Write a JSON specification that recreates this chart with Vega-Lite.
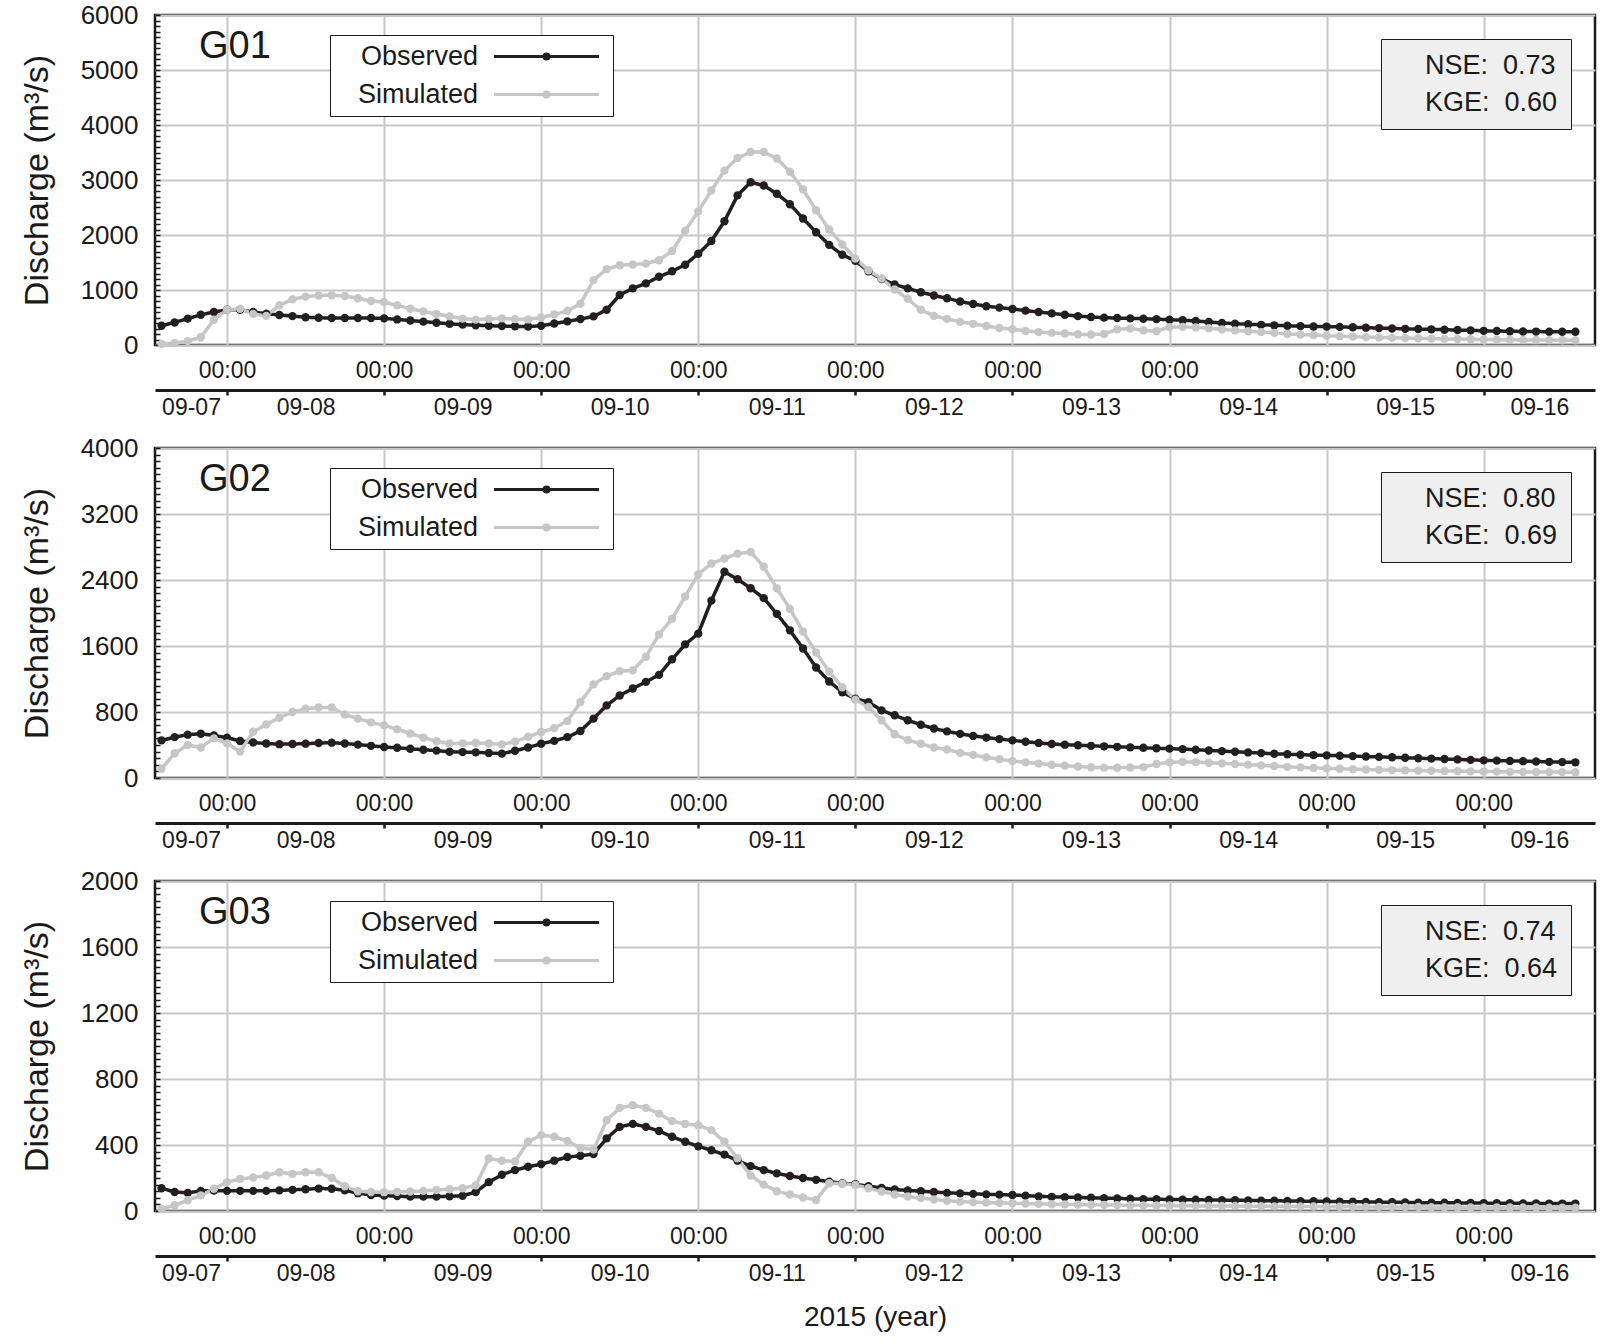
{
"$schema":"https://vega.github.io/schema/vega-lite/v6.json",
"padding":{"left":18,"top":0,"right":5,"bottom":5},
"background":"white",
"config":{"view":{"stroke":"#1a1a1a","strokeWidth":2.5},"font":"Liberation Sans"},
"data":{"format":{"parse":{"t":"date:'%y%m%d%H'"}},"values":[
{"t":"15090714","O1":350,"S1":20,"O2":456,"S2":113,"O3":138,"S3":12},
{"t":"15090716","O1":410,"S1":35,"O2":495,"S2":300,"O3":115,"S3":35},
{"t":"15090718","O1":480,"S1":70,"O2":525,"S2":400,"O3":110,"S3":65},
{"t":"15090720","O1":550,"S1":140,"O2":537,"S2":370,"O3":122,"S3":95},
{"t":"15090722","O1":600,"S1":460,"O2":515,"S2":480,"O3":124,"S3":135},
{"t":"15090800","O1":640,"S1":640,"O2":489,"S2":420,"O3":122,"S3":175},
{"t":"15090802","O1":640,"S1":660,"O2":448,"S2":320,"O3":122,"S3":195},
{"t":"15090804","O1":600,"S1":565,"O2":430,"S2":560,"O3":122,"S3":203},
{"t":"15090806","O1":570,"S1":530,"O2":418,"S2":650,"O3":122,"S3":215},
{"t":"15090808","O1":545,"S1":720,"O2":410,"S2":730,"O3":125,"S3":235},
{"t":"15090810","O1":525,"S1":830,"O2":412,"S2":800,"O3":128,"S3":225},
{"t":"15090812","O1":505,"S1":880,"O2":416,"S2":840,"O3":132,"S3":235},
{"t":"15090814","O1":495,"S1":900,"O2":424,"S2":855,"O3":136,"S3":235},
{"t":"15090816","O1":490,"S1":905,"O2":428,"S2":855,"O3":135,"S3":200},
{"t":"15090818","O1":490,"S1":890,"O2":418,"S2":770,"O3":125,"S3":150},
{"t":"15090820","O1":490,"S1":850,"O2":405,"S2":720,"O3":108,"S3":120},
{"t":"15090822","O1":490,"S1":800,"O2":390,"S2":675,"O3":97,"S3":115},
{"t":"15090900","O1":485,"S1":780,"O2":376,"S2":638,"O3":93,"S3":114},
{"t":"15090902","O1":465,"S1":720,"O2":366,"S2":590,"O3":90,"S3":116},
{"t":"15090904","O1":445,"S1":660,"O2":354,"S2":540,"O3":87,"S3":118},
{"t":"15090906","O1":425,"S1":610,"O2":342,"S2":490,"O3":87,"S3":122},
{"t":"15090908","O1":405,"S1":565,"O2":332,"S2":445,"O3":87,"S3":127},
{"t":"15090910","O1":385,"S1":520,"O2":318,"S2":418,"O3":89,"S3":132},
{"t":"15090912","O1":370,"S1":480,"O2":314,"S2":420,"O3":92,"S3":138},
{"t":"15090914","O1":360,"S1":462,"O2":311,"S2":424,"O3":115,"S3":155},
{"t":"15090916","O1":350,"S1":475,"O2":304,"S2":418,"O3":175,"S3":318},
{"t":"15090918","O1":345,"S1":485,"O2":295,"S2":408,"O3":220,"S3":305},
{"t":"15090920","O1":340,"S1":470,"O2":330,"S2":440,"O3":248,"S3":300},
{"t":"15090922","O1":335,"S1":465,"O2":370,"S2":500,"O3":268,"S3":420},
{"t":"15091000","O1":350,"S1":500,"O2":416,"S2":557,"O3":284,"S3":460},
{"t":"15091002","O1":390,"S1":555,"O2":450,"S2":605,"O3":305,"S3":450},
{"t":"15091004","O1":430,"S1":620,"O2":495,"S2":690,"O3":327,"S3":425},
{"t":"15091006","O1":472,"S1":750,"O2":570,"S2":921,"O3":335,"S3":382},
{"t":"15091008","O1":520,"S1":1180,"O2":720,"S2":1135,"O3":345,"S3":372},
{"t":"15091010","O1":640,"S1":1380,"O2":880,"S2":1235,"O3":440,"S3":550},
{"t":"15091012","O1":910,"S1":1450,"O2":1000,"S2":1295,"O3":510,"S3":625},
{"t":"15091014","O1":1030,"S1":1465,"O2":1085,"S2":1305,"O3":528,"S3":641},
{"t":"15091016","O1":1120,"S1":1480,"O2":1165,"S2":1470,"O3":510,"S3":625},
{"t":"15091018","O1":1240,"S1":1540,"O2":1250,"S2":1740,"O3":485,"S3":590},
{"t":"15091020","O1":1340,"S1":1710,"O2":1440,"S2":1930,"O3":450,"S3":545},
{"t":"15091022","O1":1460,"S1":2080,"O2":1620,"S2":2200,"O3":420,"S3":527},
{"t":"15091100","O1":1660,"S1":2430,"O2":1750,"S2":2470,"O3":392,"S3":520},
{"t":"15091102","O1":1890,"S1":2810,"O2":2150,"S2":2600,"O3":368,"S3":490},
{"t":"15091104","O1":2250,"S1":3170,"O2":2500,"S2":2660,"O3":342,"S3":420},
{"t":"15091106","O1":2720,"S1":3400,"O2":2410,"S2":2720,"O3":305,"S3":320},
{"t":"15091108","O1":2960,"S1":3510,"O2":2300,"S2":2740,"O3":272,"S3":215},
{"t":"15091110","O1":2900,"S1":3510,"O2":2180,"S2":2560,"O3":248,"S3":160},
{"t":"15091112","O1":2750,"S1":3390,"O2":1990,"S2":2300,"O3":228,"S3":120},
{"t":"15091114","O1":2560,"S1":3150,"O2":1790,"S2":2050,"O3":212,"S3":100},
{"t":"15091116","O1":2300,"S1":2830,"O2":1570,"S2":1775,"O3":200,"S3":82},
{"t":"15091118","O1":2050,"S1":2450,"O2":1340,"S2":1520,"O3":189,"S3":67},
{"t":"15091120","O1":1820,"S1":2100,"O2":1170,"S2":1290,"O3":178,"S3":168},
{"t":"15091122","O1":1640,"S1":1830,"O2":1040,"S2":1100,"O3":168,"S3":165},
{"t":"15091200","O1":1530,"S1":1570,"O2":960,"S2":950,"O3":162,"S3":158},
{"t":"15091202","O1":1340,"S1":1360,"O2":920,"S2":860,"O3":150,"S3":138},
{"t":"15091204","O1":1200,"S1":1210,"O2":820,"S2":700,"O3":140,"S3":118},
{"t":"15091206","O1":1100,"S1":1010,"O2":760,"S2":530,"O3":130,"S3":100},
{"t":"15091208","O1":1030,"S1":840,"O2":700,"S2":460,"O3":125,"S3":88},
{"t":"15091210","O1":960,"S1":640,"O2":645,"S2":415,"O3":120,"S3":78},
{"t":"15091212","O1":900,"S1":530,"O2":600,"S2":370,"O3":115,"S3":70},
{"t":"15091214","O1":850,"S1":475,"O2":565,"S2":345,"O3":110,"S3":62},
{"t":"15091216","O1":790,"S1":420,"O2":535,"S2":305,"O3":107,"S3":57},
{"t":"15091218","O1":745,"S1":385,"O2":510,"S2":280,"O3":104,"S3":54},
{"t":"15091220","O1":705,"S1":345,"O2":490,"S2":250,"O3":101,"S3":51},
{"t":"15091222","O1":680,"S1":310,"O2":472,"S2":228,"O3":99,"S3":49},
{"t":"15091300","O1":655,"S1":288,"O2":456,"S2":206,"O3":97,"S3":47},
{"t":"15091302","O1":625,"S1":255,"O2":440,"S2":190,"O3":93,"S3":45},
{"t":"15091304","O1":600,"S1":235,"O2":425,"S2":175,"O3":89,"S3":43},
{"t":"15091306","O1":575,"S1":220,"O2":412,"S2":160,"O3":86,"S3":41},
{"t":"15091308","O1":550,"S1":210,"O2":404,"S2":150,"O3":84,"S3":40},
{"t":"15091310","O1":525,"S1":195,"O2":397,"S2":140,"O3":82,"S3":39},
{"t":"15091312","O1":510,"S1":190,"O2":390,"S2":130,"O3":80,"S3":38},
{"t":"15091314","O1":497,"S1":200,"O2":384,"S2":125,"O3":78,"S3":37},
{"t":"15091316","O1":490,"S1":285,"O2":378,"S2":125,"O3":76,"S3":36},
{"t":"15091318","O1":484,"S1":300,"O2":372,"S2":128,"O3":74,"S3":35},
{"t":"15091320","O1":478,"S1":265,"O2":366,"S2":132,"O3":72,"S3":34},
{"t":"15091322","O1":470,"S1":250,"O2":360,"S2":170,"O3":71,"S3":33},
{"t":"15091400","O1":460,"S1":325,"O2":356,"S2":190,"O3":70,"S3":33},
{"t":"15091402","O1":450,"S1":330,"O2":350,"S2":195,"O3":69,"S3":32},
{"t":"15091404","O1":437,"S1":320,"O2":343,"S2":193,"O3":68,"S3":31},
{"t":"15091406","O1":418,"S1":305,"O2":334,"S2":185,"O3":67,"S3":31},
{"t":"15091408","O1":400,"S1":285,"O2":326,"S2":178,"O3":66,"S3":30},
{"t":"15091410","O1":388,"S1":265,"O2":318,"S2":170,"O3":65,"S3":30},
{"t":"15091412","O1":377,"S1":250,"O2":310,"S2":162,"O3":64,"S3":29},
{"t":"15091414","O1":367,"S1":235,"O2":302,"S2":153,"O3":63,"S3":29},
{"t":"15091416","O1":358,"S1":220,"O2":294,"S2":145,"O3":62,"S3":28},
{"t":"15091418","O1":350,"S1":200,"O2":288,"S2":135,"O3":61,"S3":28},
{"t":"15091420","O1":343,"S1":190,"O2":282,"S2":128,"O3":60,"S3":27},
{"t":"15091422","O1":337,"S1":180,"O2":278,"S2":122,"O3":59,"S3":27},
{"t":"15091500","O1":335,"S1":168,"O2":275,"S2":117,"O3":58,"S3":26},
{"t":"15091502","O1":330,"S1":160,"O2":270,"S2":112,"O3":57,"S3":26},
{"t":"15091504","O1":322,"S1":152,"O2":265,"S2":107,"O3":56,"S3":25},
{"t":"15091506","O1":315,"S1":145,"O2":260,"S2":103,"O3":55,"S3":25},
{"t":"15091508","O1":308,"S1":138,"O2":256,"S2":99,"O3":54,"S3":25},
{"t":"15091510","O1":300,"S1":132,"O2":251,"S2":96,"O3":53,"S3":24},
{"t":"15091512","O1":294,"S1":127,"O2":245,"S2":93,"O3":52,"S3":24},
{"t":"15091514","O1":290,"S1":122,"O2":240,"S2":90,"O3":51,"S3":24},
{"t":"15091516","O1":285,"S1":117,"O2":235,"S2":88,"O3":50,"S3":23},
{"t":"15091518","O1":278,"S1":112,"O2":230,"S2":85,"O3":50,"S3":23},
{"t":"15091520","O1":272,"S1":108,"O2":225,"S2":83,"O3":49,"S3":23},
{"t":"15091522","O1":266,"S1":104,"O2":220,"S2":80,"O3":49,"S3":22},
{"t":"15091600","O1":258,"S1":100,"O2":214,"S2":78,"O3":48,"S3":22},
{"t":"15091602","O1":254,"S1":97,"O2":211,"S2":77,"O3":47,"S3":22},
{"t":"15091604","O1":250,"S1":94,"O2":207,"S2":75,"O3":47,"S3":21},
{"t":"15091606","O1":246,"S1":92,"O2":204,"S2":74,"O3":46,"S3":21},
{"t":"15091608","O1":244,"S1":90,"O2":200,"S2":73,"O3":46,"S3":21},
{"t":"15091610","O1":242,"S1":88,"O2":196,"S2":72,"O3":45,"S3":20},
{"t":"15091612","O1":240,"S1":86,"O2":193,"S2":71,"O3":45,"S3":20},
{"t":"15091614","O1":240,"S1":85,"O2":190,"S2":70,"O3":45,"S3":20}
]},
"spacing":103,
"bounds":"flush",
"resolve":{"scale":{"x":"independent","y":"independent","color":"independent","strokeDash":"independent"},"legend":{"color":"independent","strokeDash":"independent"}},
"vconcat":[
{"width":1440,"height":330,
"title":{"text":"G01","anchor":"start","orient":"top","frame":"group","offset":-64,"dx":44,"fontSize":38,"fontWeight":"normal","color":"#1a1a1a"},
"transform":[{"fold":["O1","S1"],"as":["k","q"]}],
"mark":{"type":"line","strokeWidth":3.5,"point":{"filled":true,"size":70}},
"encoding":{
"x":{"field":"t","type":"temporal","scale":{"domain":[{"year":2015,"month":9,"date":7,"hours":13},{"year":2015,"month":9,"date":16,"hours":17}]},
"axis":{"values":[{"year":2015,"month":9,"date":7,"hours":18,"minutes":30},{"year":2015,"month":9,"date":8},{"year":2015,"month":9,"date":8,"hours":12},{"year":2015,"month":9,"date":9},{"year":2015,"month":9,"date":9,"hours":12},{"year":2015,"month":9,"date":10},{"year":2015,"month":9,"date":10,"hours":12},{"year":2015,"month":9,"date":11},{"year":2015,"month":9,"date":11,"hours":12},{"year":2015,"month":9,"date":12},{"year":2015,"month":9,"date":12,"hours":12},{"year":2015,"month":9,"date":13},{"year":2015,"month":9,"date":13,"hours":12},{"year":2015,"month":9,"date":14},{"year":2015,"month":9,"date":14,"hours":12},{"year":2015,"month":9,"date":15},{"year":2015,"month":9,"date":15,"hours":12},{"year":2015,"month":9,"date":16},{"year":2015,"month":9,"date":16,"hours":8,"minutes":30}],
"offset":45,"domainColor":"#1a1a1a","domainWidth":3,"tickSize":5,"tickWidth":2.5,"tickColor":"#1a1a1a","tickOpacity":{"condition":{"test":"hours(datum.value)==0","value":1},"value":0},
"grid":true,"gridColor":"#c8c8c8","gridWidth":2,"gridOpacity":{"condition":{"test":"hours(datum.value)==0","value":1},"value":0},
"labelExpr":"hours(datum.value)==0 ? ['00:00',''] : ['', timeFormat(datum.value,'%m-%d')]","labelBaseline":"top","labelPadding":-36,"labelLineHeight":37,"labelFontSize":23,"labelColor":"#1a1a1a","labelOverlap":false,"labelFlush":false,"labelBound":false,"title":null}},
"y":{"field":"q","type":"quantitative","scale":{"domain":[0,6000],"nice":false},
"axis":{"tickCount":60,"offset":-5,"tickSize":5,"tickWidth":1.5,"tickColor":"#1a1a1a","format":"d","labelExpr":"datum.value % 1000 == 0 ? datum.label : ''","grid":true,"gridColor":"#c8c8c8","gridWidth":2,"gridOpacity":{"condition":{"test":"datum.value % 1000 == 0","value":1},"value":0},"domain":false,"labelFontSize":26,"labelColor":"#1a1a1a","labelPadding":17,"labelOverlap":false,"labelBound":false,"labelFlush":false,"title":"Discharge (m³/s)","titleFontSize":34,"titleFontWeight":"normal","titleColor":"#1a1a1a","titlePadding":26}},
"color":{"field":"k","type":"nominal","scale":{"domain":["O1","S1"],"range":["#231f20","#c6c6c6"]},
"legend":{"orient":"none","legendX":175,"legendY":20,"title":null,"fillColor":"white","strokeColor":"#1a1a1a","padding":8,"rowPadding":10,"labelExpr":"datum.value[0]=='O' ? 'Observed' : 'Simulated'","labelFontSize":27,"labelColor":"#1a1a1a","labelLimit":400,"labelAlign":"right","labelOffset":-82,"symbolType":"M-5.25,0H5.25M0.25,0A0.25,0.25,0,1,1,-0.25,0A0.25,0.25,0,1,1,0.25,0","symbolSize":400,"symbolStrokeWidth":3,"symbolOffset":195}},
"strokeDash":{"field":"k","type":"nominal","scale":{"domain":["O1","S1"],"range":[[1,0],[1,0]]},
"legend":{"orient":"top-right","offset":24,"title":null,"fillColor":"#efefef","strokeColor":"#1a1a1a","padding":13,"rowPadding":9,"symbolOpacity":0,"symbolSize":0,"labelOffset":4,"labelLimit":400,"labelExpr":"datum.value[0]=='O' ? 'NSE:\u00a0 0.73\u00a0\u00a0\u00a0\u00a0\u00a0' : 'KGE:\u00a0 0.60\u00a0\u00a0\u00a0\u00a0\u00a0'","labelFontSize":27,"labelColor":"#1a1a1a"}}
}},
{"width":1440,"height":330,
"title":{"text":"G02","anchor":"start","orient":"top","frame":"group","offset":-64,"dx":44,"fontSize":38,"fontWeight":"normal","color":"#1a1a1a"},
"transform":[{"fold":["O2","S2"],"as":["k","q"]}],
"mark":{"type":"line","strokeWidth":3.5,"point":{"filled":true,"size":70}},
"encoding":{
"x":{"field":"t","type":"temporal","scale":{"domain":[{"year":2015,"month":9,"date":7,"hours":13},{"year":2015,"month":9,"date":16,"hours":17}]},
"axis":{"values":[{"year":2015,"month":9,"date":7,"hours":18,"minutes":30},{"year":2015,"month":9,"date":8},{"year":2015,"month":9,"date":8,"hours":12},{"year":2015,"month":9,"date":9},{"year":2015,"month":9,"date":9,"hours":12},{"year":2015,"month":9,"date":10},{"year":2015,"month":9,"date":10,"hours":12},{"year":2015,"month":9,"date":11},{"year":2015,"month":9,"date":11,"hours":12},{"year":2015,"month":9,"date":12},{"year":2015,"month":9,"date":12,"hours":12},{"year":2015,"month":9,"date":13},{"year":2015,"month":9,"date":13,"hours":12},{"year":2015,"month":9,"date":14},{"year":2015,"month":9,"date":14,"hours":12},{"year":2015,"month":9,"date":15},{"year":2015,"month":9,"date":15,"hours":12},{"year":2015,"month":9,"date":16},{"year":2015,"month":9,"date":16,"hours":8,"minutes":30}],
"offset":45,"domainColor":"#1a1a1a","domainWidth":3,"tickSize":5,"tickWidth":2.5,"tickColor":"#1a1a1a","tickOpacity":{"condition":{"test":"hours(datum.value)==0","value":1},"value":0},
"grid":true,"gridColor":"#c8c8c8","gridWidth":2,"gridOpacity":{"condition":{"test":"hours(datum.value)==0","value":1},"value":0},
"labelExpr":"hours(datum.value)==0 ? ['00:00',''] : ['', timeFormat(datum.value,'%m-%d')]","labelBaseline":"top","labelPadding":-36,"labelLineHeight":37,"labelFontSize":23,"labelColor":"#1a1a1a","labelOverlap":false,"labelFlush":false,"labelBound":false,"title":null}},
"y":{"field":"q","type":"quantitative","scale":{"domain":[0,4000],"nice":false},
"axis":{"values":[0,80,160,240,320,400,480,560,640,720,800,880,960,1040,1120,1200,1280,1360,1440,1520,1600,1680,1760,1840,1920,2000,2080,2160,2240,2320,2400,2480,2560,2640,2720,2800,2880,2960,3040,3120,3200,3280,3360,3440,3520,3600,3680,3760,3840,3920,4000],"offset":-5,"tickSize":5,"tickWidth":1.5,"tickColor":"#1a1a1a","format":"d","labelExpr":"datum.value % 800 == 0 ? datum.label : ''","grid":true,"gridColor":"#c8c8c8","gridWidth":2,"gridOpacity":{"condition":{"test":"datum.value % 800 == 0","value":1},"value":0},"domain":false,"labelFontSize":26,"labelColor":"#1a1a1a","labelPadding":17,"labelOverlap":false,"labelBound":false,"labelFlush":false,"title":"Discharge (m³/s)","titleFontSize":34,"titleFontWeight":"normal","titleColor":"#1a1a1a","titlePadding":26}},
"color":{"field":"k","type":"nominal","scale":{"domain":["O2","S2"],"range":["#231f20","#c6c6c6"]},
"legend":{"orient":"none","legendX":175,"legendY":20,"title":null,"fillColor":"white","strokeColor":"#1a1a1a","padding":8,"rowPadding":10,"labelExpr":"datum.value[0]=='O' ? 'Observed' : 'Simulated'","labelFontSize":27,"labelColor":"#1a1a1a","labelLimit":400,"labelAlign":"right","labelOffset":-82,"symbolType":"M-5.25,0H5.25M0.25,0A0.25,0.25,0,1,1,-0.25,0A0.25,0.25,0,1,1,0.25,0","symbolSize":400,"symbolStrokeWidth":3,"symbolOffset":195}},
"strokeDash":{"field":"k","type":"nominal","scale":{"domain":["O2","S2"],"range":[[1,0],[1,0]]},
"legend":{"orient":"top-right","offset":24,"title":null,"fillColor":"#efefef","strokeColor":"#1a1a1a","padding":13,"rowPadding":9,"symbolOpacity":0,"symbolSize":0,"labelOffset":4,"labelLimit":400,"labelExpr":"datum.value[0]=='O' ? 'NSE:\u00a0 0.80\u00a0\u00a0\u00a0\u00a0\u00a0' : 'KGE:\u00a0 0.69\u00a0\u00a0\u00a0\u00a0\u00a0'","labelFontSize":27,"labelColor":"#1a1a1a"}}
}},
{"width":1440,"height":330,
"title":{"text":"G03","anchor":"start","orient":"top","frame":"group","offset":-64,"dx":44,"fontSize":38,"fontWeight":"normal","color":"#1a1a1a"},
"transform":[{"fold":["O3","S3"],"as":["k","q"]}],
"mark":{"type":"line","strokeWidth":3.5,"point":{"filled":true,"size":70}},
"encoding":{
"x":{"field":"t","type":"temporal","scale":{"domain":[{"year":2015,"month":9,"date":7,"hours":13},{"year":2015,"month":9,"date":16,"hours":17}]},
"axis":{"values":[{"year":2015,"month":9,"date":7,"hours":18,"minutes":30},{"year":2015,"month":9,"date":8},{"year":2015,"month":9,"date":8,"hours":12},{"year":2015,"month":9,"date":9},{"year":2015,"month":9,"date":9,"hours":12},{"year":2015,"month":9,"date":10},{"year":2015,"month":9,"date":10,"hours":12},{"year":2015,"month":9,"date":11},{"year":2015,"month":9,"date":11,"hours":12},{"year":2015,"month":9,"date":12},{"year":2015,"month":9,"date":12,"hours":12},{"year":2015,"month":9,"date":13},{"year":2015,"month":9,"date":13,"hours":12},{"year":2015,"month":9,"date":14},{"year":2015,"month":9,"date":14,"hours":12},{"year":2015,"month":9,"date":15},{"year":2015,"month":9,"date":15,"hours":12},{"year":2015,"month":9,"date":16},{"year":2015,"month":9,"date":16,"hours":8,"minutes":30}],
"offset":45,"domainColor":"#1a1a1a","domainWidth":3,"tickSize":5,"tickWidth":2.5,"tickColor":"#1a1a1a","tickOpacity":{"condition":{"test":"hours(datum.value)==0","value":1},"value":0},
"grid":true,"gridColor":"#c8c8c8","gridWidth":2,"gridOpacity":{"condition":{"test":"hours(datum.value)==0","value":1},"value":0},
"labelExpr":"hours(datum.value)==0 ? ['00:00',''] : ['', timeFormat(datum.value,'%m-%d')]","labelBaseline":"top","labelPadding":-36,"labelLineHeight":37,"labelFontSize":23,"labelColor":"#1a1a1a","labelOverlap":false,"labelFlush":false,"labelBound":false,
"title":"2015 (year)","titleFontSize":28,"titleFontWeight":"normal","titleColor":"#1a1a1a","titlePadding":18}},
"y":{"field":"q","type":"quantitative","scale":{"domain":[0,2000],"nice":false},
"axis":{"values":[0,40,80,120,160,200,240,280,320,360,400,440,480,520,560,600,640,680,720,760,800,840,880,920,960,1000,1040,1080,1120,1160,1200,1240,1280,1320,1360,1400,1440,1480,1520,1560,1600,1640,1680,1720,1760,1800,1840,1880,1920,1960,2000],"offset":-5,"tickSize":5,"tickWidth":1.5,"tickColor":"#1a1a1a","format":"d","labelExpr":"datum.value % 400 == 0 ? datum.label : ''","grid":true,"gridColor":"#c8c8c8","gridWidth":2,"gridOpacity":{"condition":{"test":"datum.value % 400 == 0","value":1},"value":0},"domain":false,"labelFontSize":26,"labelColor":"#1a1a1a","labelPadding":17,"labelOverlap":false,"labelBound":false,"labelFlush":false,"title":"Discharge (m³/s)","titleFontSize":34,"titleFontWeight":"normal","titleColor":"#1a1a1a","titlePadding":26}},
"color":{"field":"k","type":"nominal","scale":{"domain":["O3","S3"],"range":["#231f20","#c6c6c6"]},
"legend":{"orient":"none","legendX":175,"legendY":20,"title":null,"fillColor":"white","strokeColor":"#1a1a1a","padding":8,"rowPadding":10,"labelExpr":"datum.value[0]=='O' ? 'Observed' : 'Simulated'","labelFontSize":27,"labelColor":"#1a1a1a","labelLimit":400,"labelAlign":"right","labelOffset":-82,"symbolType":"M-5.25,0H5.25M0.25,0A0.25,0.25,0,1,1,-0.25,0A0.25,0.25,0,1,1,0.25,0","symbolSize":400,"symbolStrokeWidth":3,"symbolOffset":195}},
"strokeDash":{"field":"k","type":"nominal","scale":{"domain":["O3","S3"],"range":[[1,0],[1,0]]},
"legend":{"orient":"top-right","offset":24,"title":null,"fillColor":"#efefef","strokeColor":"#1a1a1a","padding":13,"rowPadding":9,"symbolOpacity":0,"symbolSize":0,"labelOffset":4,"labelLimit":400,"labelExpr":"datum.value[0]=='O' ? 'NSE:\u00a0 0.74\u00a0\u00a0\u00a0\u00a0\u00a0' : 'KGE:\u00a0 0.64\u00a0\u00a0\u00a0\u00a0\u00a0'","labelFontSize":27,"labelColor":"#1a1a1a"}}
}}
]
}
